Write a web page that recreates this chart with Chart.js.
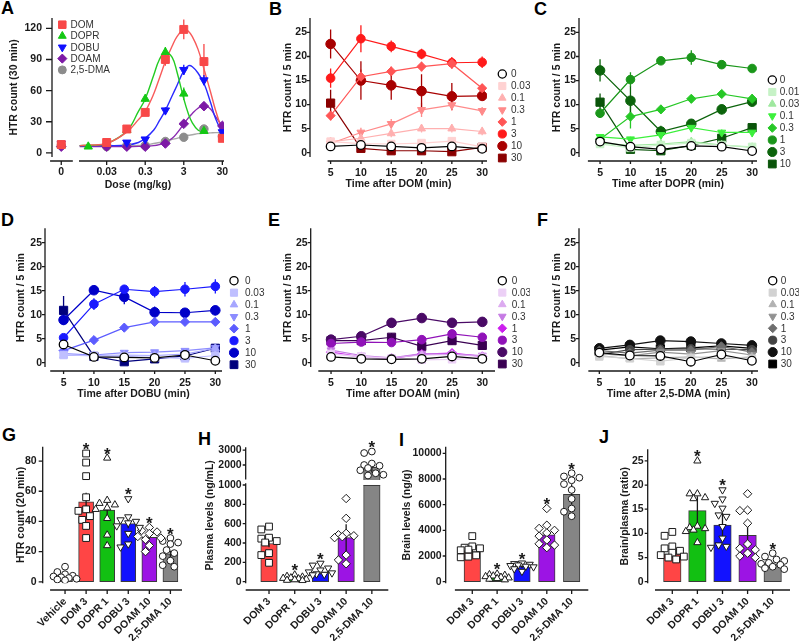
<!DOCTYPE html>
<html>
<head>
<meta charset="utf-8">
<title>HTR figure</title>
<script src="https://cdn.jsdelivr.net/npm/chart.js@4.4.1/dist/chart.umd.min.js"></script>
<style>
  html, body { margin: 0; padding: 0; background: #fff; }
  #fig { position: relative; width: 799px; height: 641px; overflow: hidden; background: #fff; }
  #fig canvas { position: absolute; }
  .tag { position: absolute; font: bold 18px "Liberation Sans", Arial, sans-serif; line-height: 18px; color: #000; }
</style>
</head>
<body>
<div id="fig">
  <div class="tag" style="left:1px;top:-1px">A</div>
  <div class="tag" style="left:269px;top:0px">B</div>
  <div class="tag" style="left:534px;top:0px">C</div>
  <div class="tag" style="left:1px;top:211px">D</div>
  <div class="tag" style="left:268px;top:211px">E</div>
  <div class="tag" style="left:537px;top:211px">F</div>
  <div class="tag" style="left:2px;top:426px">G</div>
  <div class="tag" style="left:198px;top:430px">H</div>
  <div class="tag" style="left:399px;top:431px">I</div>
  <div class="tag" style="left:599px;top:428px">J</div>
</div>
<script>
// ---------- A: dose response, HTR count (30 min) ----------
const drugNames = ['DOM', 'DOPR', 'DOBU', 'DOAM', '2,5-DMA'];
const doseTickVals = [0, 0.03, 0.3, 3, 30];
const doseTickLabels = ['0', '0.03', '0.3', '3', '30'];
const htrTicksA = [0, 30, 60, 90, 120];

const domDoses = [0, 0.03, 0.1, 0.3, 1, 3, 10, 30];
const domHTR = [8, 10, 23, 39, 90, 119, 88, 14];
const domErr = [1.5, 1, 2, 3, 6, 9.5, 17, 2];
const doprDoses = [0, 0.01, 0.03, 0.1, 0.3, 1, 3, 10];
const doprHTR = [7, 6, 9, 22, 52, 97, 57, 21];
const doprErr = [1, 1, 1, 2, 3, 5, 6, 2];
const dobuDoses = [0, 0.1, 0.3, 1, 3, 10, 30];
const dobuHTR = [9, 10, 13, 41, 80, 70, 20];
const dobuErr = [1.5, 1.5, 2, 3, 5, 5, 3];
const doamDoses = [0, 0.03, 0.1, 0.3, 1, 3, 10, 30];
const doamHTR = [6, 6, 6, 6, 9, 28, 45, 26];
const doamErr = [1, 1, 1, 1, 1, 2, 3, 2];
const dmaDoses = [0, 0.03, 0.1, 0.3, 1, 3, 10, 30];
const dmaHTR = [7, 6, 7, 7, 11, 15, 23, 16];
const dmaErr = [1, 1, 1, 1, 1, 1.5, 2, 2];

// fitted curves as they appear in the figure
const fitDoses = [0.006, 0.01, 0.03, 0.1, 0.2, 0.3, 0.5, 0.7, 1, 1.5, 2, 3, 4, 5, 7, 10, 15, 20, 30];
const domFit  = [7, 7.5, 9, 20, 32, 40, 57, 72, 88, 103, 112, 119, 117, 112, 100, 81, 58, 41, 21];
const doprFit = [7, 7.2, 9, 21, 40, 52, 75, 90, 97, 92, 78, 52, 37, 29, 22, 20, null, null, null];
const dobuFit = [7, 7, 7, 7.5, 10, 14, 22, 31, 41, 55, 65, 79, 84, 83, 77, 67, 48, 33, 19];
const doamFit = [6, 6, 6, 6, 6.2, 6.5, 7, 8, 10, 14, 19, 28, 34, 38, 43, 46, 42, 35, 26];
const dmaFit  = [7, 7, 7, 7, 7.2, 7.5, 9, 10, 11, 13, 14, 16, 17, 17.5, 18.5, 19, 19.3, 19.5, 19.5];

// ---------- B-F: time course, HTR count / 5 min ----------
const timeMin = [5, 10, 15, 20, 25, 30];
const tcTicks = [0, 5, 10, 15, 20, 25];
const tcDoses = ['0', '0.03', '0.1', '0.3', '1', '3', '10', '30'];
const doprTcDoses = ['0', '0.01', '0.03', '0.1', '0.3', '1', '3', '10'];

const domTC = [
  [1.3, 1.6, 1.3, 1.0, 1.3, 0.8],
  [2.3, 1.9, 1.8, 2.0, 2.4, 1.2],
  [2.3, 3.0, 4.0, 5.0, 5.0, 4.4],
  [1.9, 4.2, 6.0, 8.9, 9.9, 8.7],
  [7.7, 15.8, 16.9, 17.9, 18.5, 13.4],
  [15.5, 23.7, 22.1, 20.5, 18.7, 18.8],
  [22.6, 15.0, 14.0, 12.8, 11.7, 11.8],
  [10.3, 0.9, 0.4, 0.4, 0.2, 1.1]
];
const domTCerr = [
  [0.3, 0.3, 0.3, 0.3, 0.3, 0.3],
  [0.5, 0.5, 0.5, 0.5, 0.5, 0.5],
  [0.6, 0.8, 0.8, 0.8, 0.8, 0.8],
  [0.6, 1.0, 1.0, 1.5, 1.2, 0.8],
  [1.0, 1.5, 1.0, 1.0, 1.0, 0.8],
  [2.0, 2.8, 1.2, 1.1, 1.2, 1.2],
  [3.0, 4.0, 3.0, 3.5, 2.8, 1.0],
  [2.8, 0.3, 0.3, 0.3, 0.2, 0.4]
];
const doprTC = [
  [2.3, 1.25, 0.7, 1.4, 1.25, 0.35],
  [1.8, 1.0, 1.6, 2.0, 1.6, 1.2],
  [2.0, 1.5, 1.8, 2.3, 1.6, 1.1],
  [3.3, 2.8, 3.7, 5.2, 4.2, 4.2],
  [2.8, 7.5, 9.0, 11.2, 12.2, 11.2],
  [8.2, 15.2, 19.1, 19.8, 18.3, 17.5],
  [17.1, 10.8, 4.4, 6.0, 9.0, 10.6],
  [10.5, 0.7, 0.4, 1.5, 3.0, 5.2]
];
const doprTCerr = [
  [0.4, 0.3, 0.3, 0.3, 0.3, 0.2],
  [0.4, 0.4, 0.4, 0.4, 0.4, 0.4],
  [0.4, 0.4, 0.4, 0.4, 0.4, 0.4],
  [0.5, 0.5, 0.7, 0.8, 0.6, 0.6],
  [0.6, 2.5, 0.8, 0.8, 0.7, 1.0],
  [1.0, 1.5, 0.6, 1.5, 0.6, 0.5],
  [2.3, 3.0, 1.2, 0.8, 1.0, 0.8],
  [1.8, 0.3, 0.3, 0.4, 0.5, 0.6]
];
const dobuTC = [
  [3.8, 1.2, 1.1, 1.0, 1.6, 0.4],
  [1.6, 1.4, 1.3, 1.1, 0.9, 1.5],
  [1.5, 1.5, 1.6, 1.5, 1.8, 3.0],
  [1.9, 1.6, 2.1, 2.2, 2.5, 3.1],
  [2.5, 4.7, 7.3, 8.5, 8.5, 8.5],
  [5.2, 12.2, 15.3, 14.8, 15.3, 15.9],
  [8.9, 15.1, 13.7, 10.5, 10.4, 10.9],
  [10.9, 1.3, 0.2, 0.8, 1.4, 3.0]
];
const dobuTCerr = [
  [0.4, 0.3, 0.3, 0.3, 0.3, 0.2],
  [0.3, 0.3, 0.3, 0.3, 0.3, 0.3],
  [0.3, 0.3, 0.3, 0.3, 0.3, 0.4],
  [0.3, 0.3, 0.4, 0.4, 0.4, 0.4],
  [0.4, 0.5, 0.5, 0.6, 0.6, 0.6],
  [0.5, 1.2, 0.8, 1.2, 1.5, 1.5],
  [0.8, 0.6, 1.5, 1.2, 0.8, 1.0],
  [3.0, 0.3, 0.2, 0.3, 0.3, 0.5]
];
const doamTC = [
  [1.2, 0.8, 0.7, 0.8, 1.3, 0.8],
  [1.8, 1.3, 0.9, 0.6, 0.7, 1.0],
  [2.0, 1.1, 1.0, 1.6, 1.7, 1.3],
  [2.6, 1.5, 1.0, 1.9, 1.8, 1.5],
  [2.2, 1.2, 0.9, 1.8, 2.0, 1.3],
  [4.0, 4.3, 4.2, 4.8, 6.0, 5.3],
  [4.8, 5.5, 8.3, 9.3, 8.3, 8.5],
  [4.6, 4.6, 5.3, 3.4, 4.6, 3.6]
];
const doamTCerr = [
  [0.3, 0.2, 0.2, 0.2, 0.3, 0.2],
  [0.4, 0.3, 0.2, 0.2, 0.2, 0.3],
  [0.4, 0.3, 0.3, 0.4, 0.4, 0.3],
  [0.5, 0.4, 0.3, 0.4, 0.4, 0.4],
  [0.4, 0.3, 0.3, 0.4, 0.4, 0.3],
  [0.6, 0.6, 0.6, 0.8, 0.8, 0.7],
  [0.7, 0.8, 0.9, 0.9, 0.8, 0.8],
  [0.8, 0.8, 0.9, 0.8, 0.9, 0.7]
];
const dmaTC = [
  [2.1, 1.5, 1.4, 0.2, 1.7, 0.4],
  [1.3, 0.9, 0.3, 1.0, 1.4, 0.8],
  [1.5, 0.8, 1.0, 1.2, 0.8, 1.2],
  [1.9, 1.4, 2.2, 1.8, 2.5, 1.6],
  [2.5, 2.0, 2.6, 2.6, 3.4, 2.2],
  [1.7, 2.7, 2.8, 2.9, 2.8, 2.7],
  [3.0, 3.7, 4.6, 4.4, 4.0, 3.6],
  [2.6, 3.3, 2.9, 3.1, 3.5, 3.0]
];
const dmaTCerr = [
  [0.3, 0.3, 0.3, 0.2, 0.3, 0.2],
  [0.3, 0.3, 0.2, 0.3, 0.3, 0.3],
  [0.3, 0.3, 0.3, 0.3, 0.3, 0.3],
  [0.4, 0.3, 0.4, 0.4, 0.4, 0.3],
  [0.4, 0.4, 0.4, 0.4, 0.5, 0.4],
  [0.4, 0.5, 0.5, 0.5, 0.5, 0.5],
  [0.5, 0.5, 0.6, 0.5, 0.5, 0.5],
  [0.5, 0.5, 0.5, 0.5, 0.5, 0.5]
];

// ---------- G-J: bar charts with individual animals ----------
const htrGroups = ['Vehicle', 'DOM 3', 'DOPR 1', 'DOBU 3', 'DOAM 10', '2,5-DMA 10'];
const htrTicks = [0, 20, 40, 60, 80];
const htrMean = [3.5, 53, 47.5, 38.5, 29.5, 18.5];
const htrSem = [1, 6, 5, 3, 1.8, 2];
const htrSig = [false, true, true, true, true, true];
const htrVeh = [10, 6.5, 5, 4, 3.5, 3, 2.5, 2, 1.5, 1];
const htrDom = [85, 79, 70, 56, 48, 47, 43.5, 41, 37, 29];
const htrDopr = [82, 54, 52, 51, 49, 48, 42, 31, 24];
const htrDobu = [55, 43, 41, 40, 39, 37, 36, 32, 25, 23];
const htrDoam = [36, 34, 33, 32, 30, 29, 28, 24, 20];
const htrDma = [29, 27, 26, 25, 21, 19, 17, 14, 11, 10];

const pkGroups = ['DOM 3', 'DOPR 1', 'DOBU 3', 'DOAM 10', '2,5-DMA 10'];

const plasmaTicks = [0, 200, 400, 600, 800, 1000, 2000, 3000];
const plasmaMean = [395, 30, 100, 455, 1850];
const plasmaSem = [40, 6, 15, 140, 350];
const plasmaSig = [false, true, true, false, true];
const plasmaDom = [570, 540, 455, 445, 420, 405, 295, 275, 195];
const plasmaDopr = [70, 55, 48, 40, 35, 30, 25, 20, 15, 12];
const plasmaDobu = [190, 170, 140, 120, 100, 90, 80, 75, 70];
const plasmaDoam = [860, 655, 500, 485, 475, 465, 455, 275, 225, 185];
const plasmaDma = [2900, 2800, 2100, 2000, 1950, 1800, 1650, 1450, 1350, 1300];

const brainTicks = [0, 2000, 4000, 6000, 8000, 10000];
const brainMean = [2350, 350, 1200, 3650, 6800];
const brainSem = [200, 50, 130, 330, 780];
const brainSig = [false, true, true, true, true];
const brainDom = [3550, 2750, 2650, 2600, 2500, 2450, 2050, 1950, 1900];
const brainDopr = [600, 550, 500, 450, 400, 350, 300, 250, 200, 150];
const brainDobu = [1450, 1400, 1350, 1300, 1250, 1200, 1150, 1000, 800];
const brainDoam = [5700, 4400, 4150, 4000, 3800, 3550, 3250, 2950, 2850, 2650];
const brainDma = [8450, 8200, 8100, 7900, 7600, 7150, 6450, 5700, 5450, 5100];

const ratioTicks = [0, 5, 10, 15, 20, 25];
const ratioMean = [5.7, 14.7, 11.7, 9.6, 3.7];
const ratioSem = [0.8, 3, 2.5, 2.5, 0.4];
const ratioSig = [false, true, true, false, true];
const ratioDom = [10.3, 9.5, 7.3, 6.9, 6.4, 6.0, 5.5, 5.2, 5.0, 4.6];
const ratioDopr = [25, 18.2, 18.2, 17.4, 17.2, 11.5, 11.2, 11.0, 10.7, 10.4, 8.1];
const ratioDobu = [19, 17.1, 16.2, 15.2, 13.8, 13.5, 11.4, 9.0, 7.6, 7.3, 7.1];
const ratioDoam = [18.2, 14.8, 14.7, 12.1, 7.8, 6.9, 6.6, 5.9, 5.3, 5.0];
const ratioDma = [5.9, 5.2, 4.6, 4.3, 3.9, 3.7, 3.5, 3.1, 2.8, 2.6];

// ---------- styling ----------
const FONT = '"Liberation Sans", Arial, Helvetica, sans-serif';
const TICK_FONT = { family: FONT, size: 10.5, weight: 'bold' };
const TITLE_FONT = { family: FONT, size: 10.5, weight: 'bold' };
const INK = '#1a1a1a';
Chart.defaults.font.family = FONT;
Chart.defaults.color = INK;

const drugColors = ['#f84848', '#14c814', '#1010ff', '#7d1aa6', '#8c8c8c'];
const fitColors = ['#f85a5a', '#22cc22', '#2a2aff', '#8a2ab0', '#a8a8a8'];
const drugMarks = [
  { s: 'rect', rot: 0, r: 5.6 }, { s: 'triangle', rot: 0, r: 4.8 }, { s: 'triangle', rot: 180, r: 4.8 },
  { s: 'rectRot', rot: 0, r: 4.8 }, { s: 'circle', rot: 0, r: 4.2 }
];
const tcMarks = [
  { s: 'circle', rot: 0, r: 4.3 }, { s: 'rect', rot: 0, r: 5.3 }, { s: 'triangle', rot: 0, r: 4.6 },
  { s: 'triangle', rot: 180, r: 4.6 }, { s: 'rectRot', rot: 0, r: 4.6 }, { s: 'circle', rot: 0, r: 4.3 },
  { s: 'circle', rot: 0, r: 4.8 }, { s: 'rect', rot: 0, r: 5.8 }
];
const domTCcolors = ['#000000', '#ffd2d2', '#ffb0b0', '#ff8a8a', '#ff5555', '#ff1a1a', '#a80000', '#8a0000'];
const doprTCcolors = ['#000000', '#c6f2c6', '#9fe89f', '#3cf03c', '#26c826', '#1a961a', '#0c640c', '#0a540a'];
const dobuTCcolors = ['#000000', '#bfbfff', '#a6a6ff', '#8c8cff', '#5c5cff', '#1a1aff', '#0000c8', '#00007d'];
const doamTCcolors = ['#000000', '#ecd0f6', '#dcaaf0', '#c67ae4', '#cc1eee', '#9012b8', '#4a0a66', '#3a0052'];
const dmaTCcolors = ['#000000', '#d2d2d2', '#b2b2b2', '#929292', '#6e6e6e', '#444444', '#111111', '#000000'];

const barColorsG = ['#ffffff', '#ff4545', '#12c012', '#1212ff', '#9c14e4', '#858585'];
const barColorsPK = ['#ff4545', '#12c012', '#1212ff', '#9c14e4', '#858585'];
const dotCircle = { s: 'circle', rot: 0, r: 3.4 };
const dotRect = { s: 'rect', rot: 0, r: 4.8 };
const dotTri = { s: 'triangle', rot: 0, r: 4.2 };
const dotTriDown = { s: 'triangle', rot: 180, r: 4.2 };
const dotDiamond = { s: 'rectRot', rot: 0, r: 4.2 };

// panel config, looked up by canvas id inside the plugin
const panels = {};

function drawMarker(ctx, style, radius, rotation, x, y) {
  Chart.helpers.drawPoint(ctx, { pointStyle: style, radius: radius, rotation: rotation, borderWidth: ctx.lineWidth }, x, y);
}

function strokeErrors(chart, i) {
  const ds = chart.data.datasets[i];
  if (!ds.errLo) return;
  const meta = chart.getDatasetMeta(i);
  const ys = chart.scales.y, ctx = chart.ctx;
  ctx.save();
  ctx.strokeStyle = ds.errColor;
  ctx.lineWidth = ds.errWidth;
  ctx.beginPath();
  meta.data.forEach((el, j) => {
    if (ds.errLo[j] == null) return;
    ctx.moveTo(el.x, ys.getPixelForValue(ds.errLo[j]));
    ctx.lineTo(el.x, ys.getPixelForValue(ds.errHi[j]));
  });
  ctx.stroke();
  ctx.restore();
}

function drawBreak(chart, g) {
  const ctx = chart.ctx, ys = chart.scales.y, ca = chart.chartArea;
  const y0 = ys.getPixelForValue(g.gap[0]), y1 = ys.getPixelForValue(g.gap[1]);
  ctx.save();
  ctx.fillStyle = '#fff';
  ctx.fillRect(ca.left + 1, y1, ca.right - ca.left, y0 - y1);
  const ds = chart.data.datasets[0];
  ctx.strokeStyle = '#3a3a3a';
  ctx.lineWidth = 1;
  ctx.beginPath();
  chart.getDatasetMeta(0).data.forEach((el, j) => {
    if (ds.data[j].y <= g.gap[1]) return;
    const w = el.width / 2;
    ctx.moveTo(el.x - w, y0 + 0.5); ctx.lineTo(el.x + w, y0 + 0.5);
  });
  ctx.stroke();
  ctx.restore();
}

function drawAxes(chart, g) {
  const ctx = chart.ctx, xs = chart.scales.x, ys = chart.scales.y, ca = chart.chartArea;
  ctx.save();
  ctx.strokeStyle = INK;
  ctx.lineWidth = 1.3;
  ctx.beginPath();
  const ax = ca.left;
  (g.ySegs || [g.y]).forEach(s => {
    ctx.moveTo(ax, ys.getPixelForValue(s[0]));
    ctx.lineTo(ax, ys.getPixelForValue(s[1]));
  });
  ys.ticks.forEach(t => {
    const py = ys.getPixelForValue(t.value);
    ctx.moveTo(ax - g.yTick, py); ctx.lineTo(ax, py);
  });
  const ay = ca.bottom + g.xGap;
  g.xSegs.forEach(s => {
    ctx.moveTo(xs.getPixelForValue(s[0]), ay);
    ctx.lineTo(xs.getPixelForValue(s[1]), ay);
  });
  xs.ticks.forEach(t => {
    const px = xs.getPixelForValue(t.value);
    ctx.moveTo(px, ay); ctx.lineTo(px, ay + g.xTick);
  });
  ctx.stroke();
  ctx.restore();
}

function drawLegend(chart, g) {
  const L = g.legend, ctx = chart.ctx, bx = g.box[0], by = g.box[1];
  ctx.save();
  ctx.font = '10px ' + FONT;
  ctx.textBaseline = 'middle';
  ctx.textAlign = 'left';
  L.labels.forEach((lab, k) => {
    const ds = chart.data.datasets[L.first + k];
    const y = L.y + k * L.dy - by;
    ctx.fillStyle = ds.pointBackgroundColor;
    ctx.strokeStyle = ds.pointBorderColor;
    ctx.lineWidth = ds.pointBorderWidth;
    drawMarker(ctx, ds.pointStyle, ds.pointRadius * 0.95, ds.pointRotation || 0, L.x - bx, y);
    ctx.fillStyle = '#333';
    ctx.fillText(lab, L.tx - bx, y + 0.5);
  });
  ctx.restore();
}

function drawStars(chart, g) {
  const ctx = chart.ctx, xs = chart.scales.x, ys = chart.scales.y;
  ctx.save();
  ctx.font = 'bold 17px ' + FONT;
  ctx.textAlign = 'center';
  ctx.textBaseline = 'alphabetic';
  ctx.fillStyle = INK;
  g.stars.forEach((on, i) => {
    if (!on) return;
    const ds = chart.data.datasets[i + 1];
    const top = Math.min(...ds.data.map(p => ys.getPixelForValue(p.y)));
    ctx.fillText('*', xs.getPixelForValue(i), top + 1.5);
  });
  ctx.restore();
}

Chart.register({
  id: 'prismLook',
  beforeDatasetsDraw(chart) {
    const g = panels[chart.canvas.id];
    if (g.bars) return;
    chart.data.datasets.forEach((ds, i) => strokeErrors(chart, i));
  },
  afterDatasetDraw(chart, args) {
    const g = panels[chart.canvas.id];
    if (!g.bars || args.index !== 0) return;
    if (g.gap) drawBreak(chart, g);
    strokeErrors(chart, 0);
  },
  afterDraw(chart) {
    const g = panels[chart.canvas.id];
    drawAxes(chart, g);
    if (g.legend) drawLegend(chart, g);
    if (g.stars) drawStars(chart, g);
  }
});

function makeChart(id, g, type, datasets, xt, yt) {
  const [bx, by, bw, bh] = g.box, [pl, pt, pr, pb] = g.plot;
  const cv = document.createElement('canvas');
  cv.id = id;
  cv.width = bw; cv.height = bh;
  cv.style.left = bx + 'px'; cv.style.top = by + 'px';
  cv.style.width = bw + 'px'; cv.style.height = bh + 'px';
  document.getElementById('fig').appendChild(cv);
  panels[id] = g;
  const half = TITLE_FONT.size * 1.2 / 2;
  return new Chart(cv, {
    type: type,
    data: { datasets: datasets },
    options: {
      responsive: false,
      animation: false,
      devicePixelRatio: 1,
      events: [],
      layout: { padding: { left: 0, top: pt - by, right: bx + bw - pr, bottom: 0 } },
      plugins: { legend: { display: false }, tooltip: { enabled: false } },
      scales: {
        x: {
          type: 'linear', min: g.x[0], max: g.x[1], offset: false,
          grid: { display: false, drawTicks: false }, border: { display: false },
          afterFit: s => { s.height = by + bh - pb; },
          afterBuildTicks: s => { s.ticks = xt.values.map(v => ({ value: v })); },
          ticks: {
            font: TICK_FONT, color: INK, padding: g.xPad, autoSkip: false,
            maxRotation: g.rot || 0, minRotation: g.rot || 0,
            callback: (v, i) => xt.labels[i]
          },
          title: {
            display: !!xt.title, text: xt.title || '', font: TITLE_FONT, color: INK,
            padding: { top: 0, bottom: xt.title ? by + bh - g.xTitleY - half : 0 }
          }
        },
        y: {
          type: 'linear', min: g.y[0], max: g.y[1],
          grid: { display: false, drawTicks: false }, border: { display: false },
          afterFit: s => { s.width = pl - bx; },
          afterBuildTicks: s => { s.ticks = yt.values.map(v => ({ value: v })); },
          ticks: { font: TICK_FONT, color: INK, padding: g.yPad, autoSkip: false, callback: (v, i) => yt.labels[i] },
          title: {
            display: true, text: yt.title, font: TITLE_FONT, color: INK,
            padding: { top: g.yTitleX - bx - half, bottom: 0 }
          }
        }
      }
    }
  });
}

// ---------- panel A ----------
const logDose = d => d === 0 ? -2.7 : Math.log10(d);   // "0" sits left of the axis break

function doseResponse() {
  const doses = [domDoses, doprDoses, dobuDoses, doamDoses, dmaDoses];
  const vals = [domHTR, doprHTR, dobuHTR, doamHTR, dmaHTR];
  const errs = [domErr, doprErr, dobuErr, doamErr, dmaErr];
  const fits = [domFit, doprFit, dobuFit, doamFit, dmaFit];
  const points = vals.map((v, i) => ({
    type: 'line', showLine: false, order: 0,
    data: doses[i].map((d, j) => ({ x: logDose(d), y: v[j] })),
    errLo: v.map((y, j) => y - errs[i][j]), errHi: v.map((y, j) => y + errs[i][j]),
    errColor: drugColors[i], errWidth: 1.3,
    pointStyle: drugMarks[i].s, pointRotation: drugMarks[i].rot, pointRadius: drugMarks[i].r,
    pointBackgroundColor: drugColors[i], pointBorderColor: drugColors[i], pointBorderWidth: 1
  }));
  const curves = fits.map((f, i) => ({
    type: 'line', order: 5, tension: 0.4,
    data: fitDoses.map((d, j) => ({ x: Math.log10(d), y: f[j] })).filter(p => p.y !== null),
    borderColor: fitColors[i], borderWidth: 1.4, pointRadius: 0
  }));
  const g = {
    box: [0, 0, 265, 205], plot: [52, 18, 224, 157], x: [-2.94, 1.52], y: [-4, 130],
    xSegs: [[-2.99, -2.40], [-2.24, 1.52]], xGap: 4, xTick: 4, xPad: 8.6, yTick: 6, yPad: 10,
    yTitleX: 14, xTitleY: 185,
    legend: { x: 62.3, tx: 70.5, y: 24.7, dy: 11.3, first: 0, labels: drugNames }
  };
  makeChart('chartA', g, 'line', points.concat(curves),
    { values: doseTickVals.map(logDose), labels: doseTickLabels, title: 'Dose (mg/kg)' },
    { values: htrTicksA, labels: htrTicksA.map(String), title: 'HTR count (30 min)' });
}

// ---------- panels B-F ----------
function timePanel(id, g, rows, errs, colors, labels, drug) {
  const ds = rows.map((row, i) => {
    const m = tcMarks[i], c = colors[i];
    return {
      data: timeMin.map((t, j) => ({ x: t, y: row[j] })),
      errLo: row.map((v, j) => v - errs[i][j]), errHi: row.map((v, j) => v + errs[i][j]),
      errColor: c, errWidth: 1.3,
      borderColor: c, borderWidth: 1.2, tension: 0,
      pointStyle: m.s, pointRotation: m.rot, pointRadius: m.r,
      pointBackgroundColor: i === 0 ? '#ffffff' : c, pointBorderColor: c,
      pointBorderWidth: i === 0 ? 1.3 : 1
    };
  });
  g.legend.labels = labels;
  g.legend.first = 0;
  makeChart(id, g, 'line', ds,
    { values: timeMin, labels: timeMin.map(String), title: 'Time after ' + drug + ' (min)' },
    { values: tcTicks, labels: tcTicks.map(String), title: 'HTR count / 5 min' });
}

// ---------- panels G-J ----------
// spread the animals sideways so that markers do not sit on top of each other
function swarm(vals, pxX, pxY, dia) {
  const placed = [], offs = new Array(vals.length);
  const order = vals.map((v, i) => i).sort((a, b) => vals[b] - vals[a]);
  const steps = [0, -1, 1, -2, 2, -3, 3];
  order.forEach(i => {
    const y = vals[i] * pxY;
    let best = 0, bestD = -1;
    for (const k of steps) {
      const x = k * dia * 0.55;
      let dmin = Infinity;
      placed.forEach(p => { dmin = Math.min(dmin, Math.hypot(p.x - x, p.y - y)); });
      if (dmin >= dia) { best = x; break; }
      if (dmin > bestD) { bestD = dmin; best = x; }
    }
    placed.push({ x: best, y: y });
    offs[i] = best / pxX;
  });
  return offs;
}

function barPanel(id, g, groups, means, errs, pts, colors, marks, stars, yt, tf) {
  tf = tf || (v => v);
  const pxX = (g.plot[2] - g.plot[0]) / (g.x[1] - g.x[0]);
  const pxY = (g.plot[3] - g.plot[1]) / (g.y[1] - g.y[0]);
  const bars = {
    type: 'bar', order: 1,
    data: means.map((m, i) => ({ x: i, y: tf(m) })),
    backgroundColor: colors, borderColor: '#3a3a3a', borderWidth: 1, borderSkipped: false,
    barThickness: g.barW,
    errLo: means.map((m, i) => tf(m - errs[i])), errHi: means.map((m, i) => tf(m + errs[i])),
    errColor: INK, errWidth: 1.3
  };
  const dots = pts.map((vals, i) => {
    const tv = vals.map(tf);
    const off = swarm(tv, pxX, pxY, 7);
    const m = marks[i];
    return {
      type: 'line', order: 0, showLine: false,
      data: tv.map((v, j) => ({ x: i + off[j], y: v })),
      pointStyle: m.s, pointRotation: m.rot, pointRadius: m.r,
      pointBackgroundColor: '#ffffff', pointBorderColor: INK, pointBorderWidth: 1
    };
  });
  g.bars = true;
  g.stars = stars;
  makeChart(id, g, 'bar', [bars].concat(dots),
    { values: groups.map((n, i) => i), labels: groups }, yt);
}

// plasma axis is broken above 1000 ng/mL
const plasmaAxis = v => v <= 1000 ? v : 1051.7 + (v - 1000) * 0.155;

doseResponse();

timePanel('chartB', {
  box: [265, 0, 265, 205], plot: [310, 18, 487, 157], x: [1.6, 30.8], y: [-0.9, 28],
  xSegs: [[4.5, 30.8]], xGap: 4, xTick: 3, xPad: 9.4, yTick: 3, yPad: 3, yTitleX: 288, xTitleY: 184,
  legend: { x: 502.3, tx: 511, y: 74, dy: 12 }
}, domTC, domTCerr, domTCcolors, tcDoses, 'DOM');

timePanel('chartC', {
  box: [530, 0, 269, 205], plot: [579, 18, 757, 157], x: [1.54, 30.8], y: [-0.9, 28],
  xSegs: [[3.0, 30.8]], xGap: 4, xTick: 3, xPad: 9.4, yTick: 3, yPad: 3, yTitleX: 556.7, xTitleY: 184,
  legend: { x: 772.3, tx: 779.8, y: 80, dy: 12 }
}, doprTC, doprTCerr, doprTCcolors, doprTcDoses, 'DOPR');

timePanel('chartD', {
  box: [0, 210, 265, 205], plot: [45, 228.3, 222, 367], x: [1.94, 31.1], y: [-0.9, 28],
  xSegs: [[2.8, 31.1]], xGap: 4, xTick: 3, xPad: 9.4, yTick: 3, yPad: 3, yTitleX: 20.7, xTitleY: 394,
  legend: { x: 234, tx: 245, y: 280.7, dy: 12 }
}, dobuTC, dobuTCerr, dobuTCcolors, tcDoses, 'DOBU');

timePanel('chartE', {
  box: [265, 210, 265, 205], plot: [310.7, 228.3, 495, 367], x: [1.64, 32.1], y: [-0.9, 28],
  xSegs: [[2.9, 32.1]], xGap: 4, xTick: 3, xPad: 9.4, yTick: 3, yPad: 3, yTitleX: 287.7, xTitleY: 394,
  legend: { x: 502.3, tx: 511.7, y: 280.7, dy: 11.9 }
}, doamTC, doamTCerr, doamTCcolors, tcDoses, 'DOAM');

timePanel('chartF', {
  box: [530, 210, 269, 205], plot: [579, 228.3, 758, 367], x: [1.67, 31.0], y: [-0.9, 28],
  xSegs: [[3.2, 31.0]], xGap: 4, xTick: 3, xPad: 9.4, yTick: 3, yPad: 3, yTitleX: 556.7, xTitleY: 394,
  legend: { x: 772.7, tx: 780.7, y: 280.7, dy: 11.9 }
}, dmaTC, dmaTCerr, dmaTCcolors, tcDoses, '2,5-DMA');

barPanel('chartG', {
  box: [0, 420, 195, 221], plot: [42.7, 446.7, 182, 583.3], x: [-1.06, 5.55], y: [-1, 89.5],
  xSegs: [[-0.71, 5.55]], xGap: 6.7, xTick: 4, xPad: 12, yTick: 4, yPad: 6, yTitleX: 20.7, rot: 45, barW: 15
}, htrGroups, htrMean, htrSem, [htrVeh, htrDom, htrDopr, htrDobu, htrDoam, htrDma], barColorsG,
  [dotCircle, dotRect, dotTri, dotTriDown, dotDiamond, dotCircle], htrSig,
  { values: htrTicks, labels: htrTicks.map(String), title: 'HTR count (20 min)' });

barPanel('chartH', {
  box: [195, 420, 200, 221], plot: [245.7, 447.3, 388.3, 583.3], x: [-0.907, 4.64], y: [-17, 1390],
  ySegs: [[-17, 1017], [1058, 1390]], gap: [1000, 1051.7],
  xSegs: [[-0.907, 4.64]], xGap: 6.7, xTick: 4, xPad: 12, yTick: 3, yPad: 4, yTitleX: 210, rot: 45, barW: 16.5
}, pkGroups, plasmaMean, plasmaSem, [plasmaDom, plasmaDopr, plasmaDobu, plasmaDoam, plasmaDma], barColorsPK,
  [dotRect, dotTri, dotTriDown, dotDiamond, dotCircle], plasmaSig,
  { values: plasmaTicks.map(plasmaAxis), labels: plasmaTicks.map(String), title: 'Plasma levels (ng/mL)' },
  plasmaAxis);

barPanel('chartI', {
  box: [395, 420, 200, 221], plot: [445.7, 446.7, 588.3, 583.3], x: [-1.07, 4.67], y: [-125, 10514],
  xSegs: [[-0.70, 4.67]], xGap: 6.7, xTick: 4, xPad: 12, yTick: 3, yPad: 4, yTitleX: 406.7, rot: 45, barW: 16.5
}, pkGroups, brainMean, brainSem, [brainDom, brainDopr, brainDobu, brainDoam, brainDma], barColorsPK,
  [dotRect, dotTri, dotTriDown, dotDiamond, dotCircle], brainSig,
  { values: brainTicks, labels: brainTicks.map(String), title: 'Brain levels (ng/g)' });

barPanel('chartJ', {
  box: [595, 420, 204, 221], plot: [647.7, 449.3, 790, 583.3], x: [-0.98, 4.69], y: [-0.33, 27.4],
  xSegs: [[-0.69, 4.69]], xGap: 6.7, xTick: 4, xPad: 12, yTick: 3, yPad: 4, yTitleX: 625, rot: 45, barW: 17.5
}, pkGroups, ratioMean, ratioSem, [ratioDom, ratioDopr, ratioDobu, ratioDoam, ratioDma], barColorsPK,
  [dotRect, dotTri, dotTriDown, dotDiamond, dotCircle], ratioSig,
  { values: ratioTicks, labels: ratioTicks.map(String), title: 'Brain/plasma (ratio)' });
</script>
</body>
</html>
